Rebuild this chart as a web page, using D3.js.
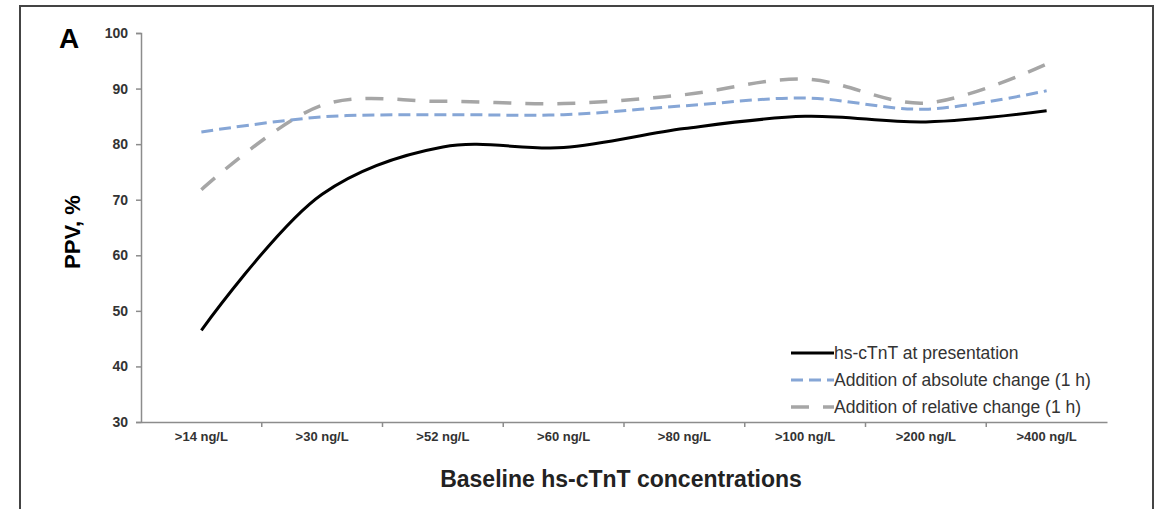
<!DOCTYPE html>
<html>
<head>
<meta charset="utf-8">
<script src="https://cdn.jsdelivr.net/npm/d3@7"></script>
<style>
  body { margin: 0; background: #fff; }
  svg { display: block; font-family: "Liberation Sans", Arial, sans-serif; }
</style>
</head>
<body>
<svg width="1160" height="509"></svg>
<script>
const categories = [">14 ng/L", ">30 ng/L", ">52 ng/L", ">60 ng/L", ">80 ng/L", ">100 ng/L", ">200 ng/L", ">400 ng/L"];
const presentation = [46.5, 71, 79.5, 79.4, 82.8, 85, 84, 86];
const absoluteChange = [82.2, 84.9, 85.3, 85.3, 86.9, 88.3, 86.3, 89.6];
const relativeChange = [71.8, 87, 87.7, 87.3, 88.9, 91.7, 87.4, 94.4];
const yTicks = [30, 40, 50, 60, 70, 80, 90, 100];

const series = [
  { name: "hs-cTnT at presentation", values: presentation, color: "#000000", width: 3, dash: null },
  { name: "Addition of absolute change (1 h)", values: absoluteChange, color: "#86a6d6", width: 3, dash: "12,6" },
  { name: "Addition of relative change (1 h)", values: relativeChange, color: "#a6a6a6", width: 3.5, dash: "18,14" }
];

const svg = d3.select("svg");

// Rahmen
svg.append("rect")
  .attr("x", 20).attr("y", 6)
  .attr("width", 1133).attr("height", 520)
  .attr("fill", "none")
  .attr("stroke", "#444")
  .attr("stroke-width", 2);

const margin = { left: 141, right: 1107, top: 33, bottom: 422 };

const x = d3.scaleBand().domain(categories).range([margin.left, margin.right]);
const y = d3.scaleLinear().domain([30, 100]).range([margin.bottom, margin.top]);

// Achsen
const yAxis = svg.append("g")
  .attr("transform", `translate(${margin.left},0)`)
  .call(d3.axisLeft(y).tickValues(yTicks).tickSize(5).tickPadding(8));
yAxis.select(".domain").attr("stroke", "#8c8c8c").attr("stroke-width", 1.5);
yAxis.selectAll(".tick line").attr("stroke", "#8c8c8c").attr("stroke-width", 1.5);
yAxis.selectAll(".tick text")
  .attr("fill", "#333").style("font-size", "14px").style("font-weight", "bold");

const xAxis = svg.append("g")
  .attr("transform", `translate(0,${margin.bottom})`)
  .call(d3.axisBottom(x).tickSize(0).tickPadding(10));
xAxis.select(".domain").attr("stroke", "#8c8c8c").attr("stroke-width", 1.5);
xAxis.selectAll(".tick text")
  .attr("fill", "#333").style("font-size", "13px").style("font-weight", "bold");

// Trennstriche zwischen Kategorien
svg.append("g")
  .selectAll("line")
  .data(categories.slice(1))
  .join("line")
  .attr("x1", d => x(d)).attr("x2", d => x(d))
  .attr("y1", margin.bottom).attr("y2", margin.bottom + 5)
  .attr("stroke", "#8c8c8c").attr("stroke-width", 1.5);

// Linien
const line = d3.line()
  .x((d, i) => x(categories[i]) + x.bandwidth() / 2)
  .y(d => y(d))
  .curve(d3.curveCatmullRom.alpha(0.5));

series.slice().reverse().forEach(s => {
  svg.append("path")
    .datum(s.values)
    .attr("d", line)
    .attr("fill", "none")
    .attr("stroke", s.color)
    .attr("stroke-width", s.width)
    .attr("stroke-dasharray", s.dash)
    .attr("stroke-linecap", "butt");
});

// Beschriftungen
svg.append("text")
  .attr("x", 59).attr("y", 48)
  .style("font-size", "28px").style("font-weight", "bold")
  .text("A");

svg.append("text")
  .attr("transform", "rotate(-90)")
  .attr("x", -232)
  .attr("y", 80)
  .attr("text-anchor", "middle")
  .style("font-size", "22px").style("font-weight", "bold")
  .text("PPV, %");

svg.append("text")
  .attr("x", 621)
  .attr("y", 487)
  .attr("text-anchor", "middle")
  .attr("fill", "#222")
  .style("font-size", "23px").style("font-weight", "bold")
  .text("Baseline hs-cTnT concentrations");

// Legende
const legend = svg.append("g").attr("transform", "translate(791,353)");
series.forEach((s, i) => {
  const g = legend.append("g").attr("transform", `translate(0,${i * 27})`);
  g.append("line")
    .attr("x1", 0).attr("x2", 43)
    .attr("stroke", s.color)
    .attr("stroke-width", s.width)
    .attr("stroke-dasharray", s.dash);
  g.append("text")
    .attr("x", 43).attr("y", 6)
    .attr("fill", "#333")
    .style("font-size", "17.5px")
    .text(s.name);
});
</script>
</body>
</html>
